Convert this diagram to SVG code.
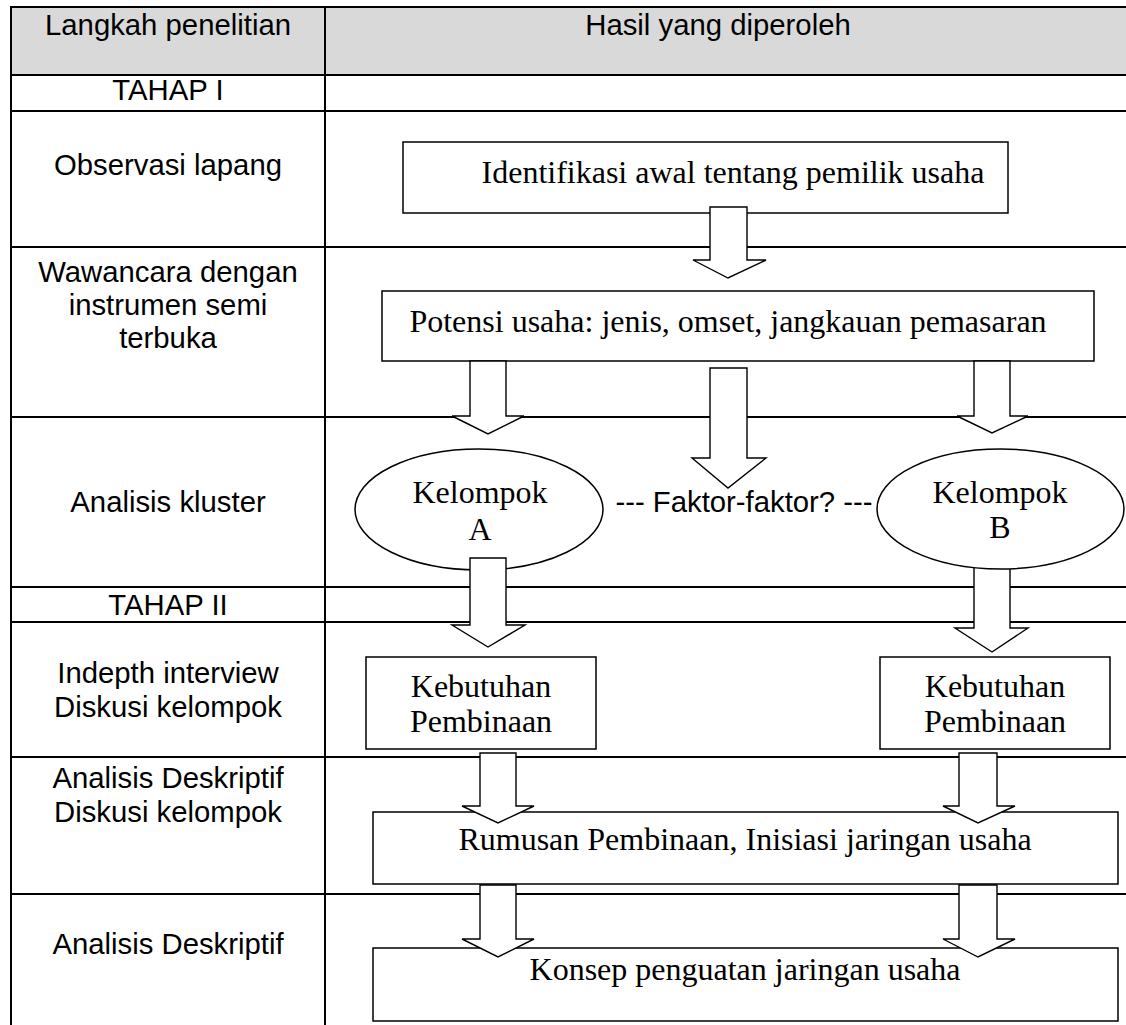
<svg xmlns="http://www.w3.org/2000/svg" width="1126" height="1025" viewBox="0 0 1126 1025">
<style>
.grid{stroke:#000;stroke-width:2;fill:none}
.box{fill:#fff;stroke:#000;stroke-width:1.5}
.arr{fill:#fff;stroke:#000;stroke-width:1.4;stroke-linejoin:miter}
.sans{font-family:"Liberation Sans",Arial,sans-serif;font-size:29.3px;fill:#000;text-anchor:middle}
.serif{font-family:"Liberation Serif","Times New Roman",serif;font-size:32px;fill:#000;text-anchor:middle}
</style>
<rect width="1126" height="1025" fill="#fff"/>
<g id="table">
<rect x="11" y="7" width="1115" height="68" fill="#d9d9d9"/>
<path class="grid" d="M11 6V1025M325 6V1025M10 7H1126M10 75H1126M10 111H1126M10 247H1126M10 417H1126M10 587H1126M10 622H1126M10 757H1126M10 894H1126"/>
<text class="sans" x="168" y="35">Langkah penelitian</text>
<text class="sans" x="718" y="35">Hasil yang diperoleh</text>
<text class="sans" x="168" y="100">TAHAP I</text>
<text class="sans" x="168" y="175">Observasi lapang</text>
<text class="sans" x="168" y="282">Wawancara dengan</text>
<text class="sans" x="168" y="315">instrumen semi</text>
<text class="sans" x="168" y="348">terbuka</text>
<text class="sans" x="168" y="512">Analisis kluster</text>
<text class="sans" x="168" y="615">TAHAP II</text>
<text class="sans" x="168" y="683">Indepth interview</text>
<text class="sans" x="168" y="717">Diskusi kelompok</text>
<text class="sans" x="168" y="788">Analisis Deskriptif</text>
<text class="sans" x="168" y="822">Diskusi kelompok</text>
<text class="sans" x="168" y="954">Analisis Deskriptif</text>
</g>
<g id="n-identifikasi">
<rect class="box" x="403" y="142" width="605" height="71"/>
<text class="serif" x="733" y="183">Identifikasi awal tentang pemilik usaha</text>
</g>
<g id="n-potensi">
<rect class="box" x="382" y="291" width="712" height="70"/>
<text class="serif" x="728" y="332">Potensi usaha: jenis, omset, jangkauan pemasaran</text>
</g>
<g id="n-kelompokA">
<ellipse class="box" cx="479" cy="509.5" rx="124" ry="60.5"/>
<text class="serif" x="480" y="503">Kelompok</text>
<text class="serif" x="480" y="540">A</text>
</g>
<g id="n-faktor">
<text class="sans" x="744" y="512">--- Faktor-faktor? ---</text>
</g>
<g id="n-kebutuhanA">
<rect class="box" x="366" y="657" width="230" height="92"/>
<text class="serif" x="481" y="697">Kebutuhan</text>
<text class="serif" x="481" y="732">Pembinaan</text>
</g>
<g id="n-kebutuhanB">
<rect class="box" x="880" y="657" width="230" height="92"/>
<text class="serif" x="995" y="697">Kebutuhan</text>
<text class="serif" x="995" y="732">Pembinaan</text>
</g>
<g id="n-rumusan">
<rect class="box" x="373" y="812" width="745" height="72"/>
<text class="serif" x="745" y="850">Rumusan Pembinaan, Inisiasi jaringan usaha</text>
</g>
<g id="n-konsep">
<rect class="box" x="373" y="948" width="745" height="73"/>
<text class="serif" x="745" y="980">Konsep penguatan jaringan usaha</text>
</g>
<g id="connectors">
<path class="arr" d="M710 207H747V260H766L728 278L693 260H710Z"/>
<path class="arr" d="M470 361H506V416H524L488 434L452 416H470Z"/>
<path class="arr" d="M710 368H747V458H766L728 488L692 458H710Z"/>
<path class="arr" d="M974 361H1010V416H1028L992 433L957 416H974Z"/>
<path class="arr" d="M470 558H506V625H525L488 647L452 625H470Z"/>
<path class="arr" d="M974 555H1010V628H1028L992 652L955 628H974Z"/>
<path class="arr" d="M480 753H516V806H534L498 823L462 806H480Z"/>
<path class="arr" d="M959 753H997V806H1015L978 823L943 806H959Z"/>
<path class="arr" d="M480 885H516V939H534L498 957L462 939H480Z"/>
<path class="arr" d="M959 885H997V939H1015L978 957L943 939H959Z"/>
</g>
<g id="n-kelompokB">
<ellipse class="box" cx="1000.5" cy="509" rx="123.5" ry="60"/>
<text class="serif" x="1000" y="503">Kelompok</text>
<text class="serif" x="1000" y="538">B</text>
</g>
</svg>
